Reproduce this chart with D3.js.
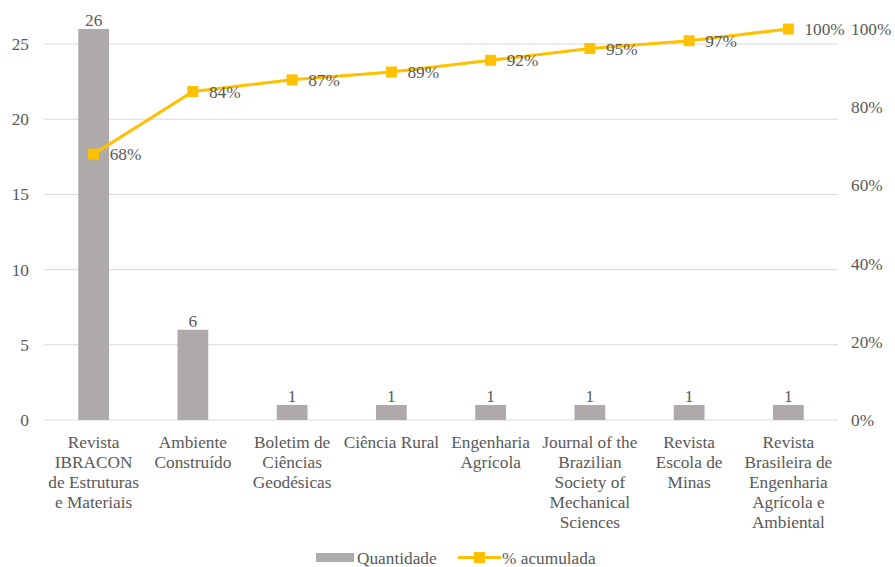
<!DOCTYPE html>
<html>
<head>
<meta charset="utf-8">
<script src="https://cdn.jsdelivr.net/npm/d3@7"></script>
<style>
  body { margin: 0; background: #fff; }
  text { font-family: "Liberation Serif", "Times New Roman", serif; fill: #595959; }
</style>
</head>
<body>
<svg id="chart"></svg>
<script>
// data
const categories = [
    "Revista IBRACON de Estruturas e Materiais",
    "Ambiente Construído",
    "Boletim de Ciências Geodésicas",
    "Ciência Rural",
    "Engenharia Agrícola",
    "Journal of the Brazilian Society of Mechanical Sciences",
    "Revista Escola de Minas",
    "Revista Brasileira de Engenharia Agrícola e Ambiental"
]
const tickLabels = [
    ["Revista", "IBRACON", "de Estruturas", "e Materiais"],
    ["Ambiente", "Construído"],
    ["Boletim de", "Ciências", "Geodésicas"],
    ["Ciência Rural"],
    ["Engenharia", "Agrícola"],
    ["Journal of the", "Brazilian", "Society of", "Mechanical", "Sciences"],
    ["Revista", "Escola de", "Minas"],
    ["Revista", "Brasileira de", "Engenharia", "Agrícola e", "Ambiental"]
]
const quantidade = [26, 6, 1, 1, 1, 1, 1, 1]
const acumulada = [0.68, 0.84, 0.87, 0.89, 0.92, 0.95, 0.97, 1.00]
const leftTicks = [0, 5, 10, 15, 20, 25]
const rightTicks = [0, 0.2, 0.4, 0.6, 0.8, 1]

const svgw = 895
const svgh = 567
const plotLeft = 44, plotRight = 838, plotTop = 29, plotBottom = 420
const fontSize = '17.3px'

const svg = d3.select('#chart')
    .attr('width', svgw)
    .attr('height', svgh)

const xScale = d3.scaleBand()
    .domain(categories)
    .range([plotLeft, plotRight])
    .paddingInner(0.69)
    .paddingOuter(0.345)
const xCenter = d => xScale(d) + xScale.bandwidth() / 2

const yScale = d3.scaleLinear()
    .domain([0, 26])
    .range([plotBottom, plotTop])
const yPct = d3.scaleLinear()
    .domain([0, 1])
    .range([plotBottom, plotTop])

// gridlines
svg.append('g')
    .selectAll('line')
    .data(leftTicks)
    .join('line')
    .attr('x1', plotLeft)
    .attr('x2', plotRight)
    .attr('y1', d => yScale(d))
    .attr('y2', d => yScale(d))
    .attr('stroke', '#d9d9d9')
    .attr('stroke-width', 1)

// left axis
const yAxis = d3.axisLeft(yScale).tickValues(leftTicks).tickSize(0).tickPadding(15)
svg.append('g')
    .attr('transform', `translate(${plotLeft},0)`)
    .call(yAxis)
    .call(g => g.select('.domain').remove())
    .selectAll('text')
    .style('font-size', fontSize)
    .style('font-family', '"Liberation Serif", serif')
    .attr('fill', '#595959')

// right axis
const yAxisR = d3.axisRight(yPct).tickValues(rightTicks).tickSize(0).tickPadding(13)
    .tickFormat(d3.format('.0%'))
svg.append('g')
    .attr('transform', `translate(${plotRight},0)`)
    .call(yAxisR)
    .call(g => g.select('.domain').remove())
    .selectAll('text')
    .style('font-size', fontSize)
    .style('font-family', '"Liberation Serif", serif')
    .attr('fill', '#595959')

// x labels
const xLabels = svg.append('g')
    .selectAll('text')
    .data(categories)
    .join('text')
    .attr('text-anchor', 'middle')
    .attr('x', d => xCenter(d))
    .attr('y', plotBottom + 28)
    .style('font-size', fontSize)

xLabels.selectAll('tspan')
    .data((d, i) => tickLabels[i])
    .join('tspan')
    .attr('x', function () { return d3.select(this.parentNode).attr('x') })
    .attr('dy', (d, i) => i === 0 ? 0 : 20)
    .text(d => d)

// bars
svg.append('g')
    .selectAll('rect')
    .data(quantidade)
    .join('rect')
    .attr('x', (d, i) => xScale(categories[i]))
    .attr('y', d => yScale(d))
    .attr('width', xScale.bandwidth())
    .attr('height', d => plotBottom - yScale(d))
    .attr('fill', '#aeaaaa')

svg.append('g')
    .selectAll('text')
    .data(quantidade)
    .join('text')
    .attr('text-anchor', 'middle')
    .attr('x', (d, i) => xCenter(categories[i]))
    .attr('y', d => yScale(d) - 3)
    .style('font-size', fontSize)
    .text(d => d)

// cumulative line
const line = d3.line()
    .x((d, i) => xCenter(categories[i]))
    .y(d => yPct(d))

svg.append('path')
    .datum(acumulada)
    .attr('d', line)
    .attr('fill', 'none')
    .attr('stroke', '#ffc000')
    .attr('stroke-width', 3)
    .attr('stroke-linejoin', 'round')

svg.append('g')
    .selectAll('rect')
    .data(acumulada)
    .join('rect')
    .attr('x', (d, i) => xCenter(categories[i]) - 5.5)
    .attr('y', d => yPct(d) - 5.5)
    .attr('width', 11)
    .attr('height', 11)
    .attr('fill', '#ffc000')

svg.append('g')
    .selectAll('text')
    .data(acumulada)
    .join('text')
    .attr('x', (d, i) => xCenter(categories[i]) + 16)
    .attr('y', d => yPct(d))
    .attr('dy', '0.35em')
    .style('font-size', fontSize)
    .text(d => d3.format('.0%')(d))

// legend
const legend = svg.append('g')
legend.append('rect')
    .attr('x', 316)
    .attr('y', 553)
    .attr('width', 38)
    .attr('height', 9)
    .attr('fill', '#aeaaaa')
legend.append('text')
    .attr('x', 357)
    .attr('y', 564)
    .style('font-size', fontSize)
    .text('Quantidade')
legend.append('line')
    .attr('x1', 459)
    .attr('x2', 500)
    .attr('y1', 557.5)
    .attr('y2', 557.5)
    .attr('stroke', '#ffc000')
    .attr('stroke-width', 3)
    .attr('stroke-linecap', 'round')
legend.append('rect')
    .attr('x', 474)
    .attr('y', 552)
    .attr('width', 11)
    .attr('height', 11)
    .attr('fill', '#ffc000')
legend.append('text')
    .attr('x', 502)
    .attr('y', 564)
    .style('font-size', fontSize)
    .text('% acumulada')
</script>
</body>
</html>
